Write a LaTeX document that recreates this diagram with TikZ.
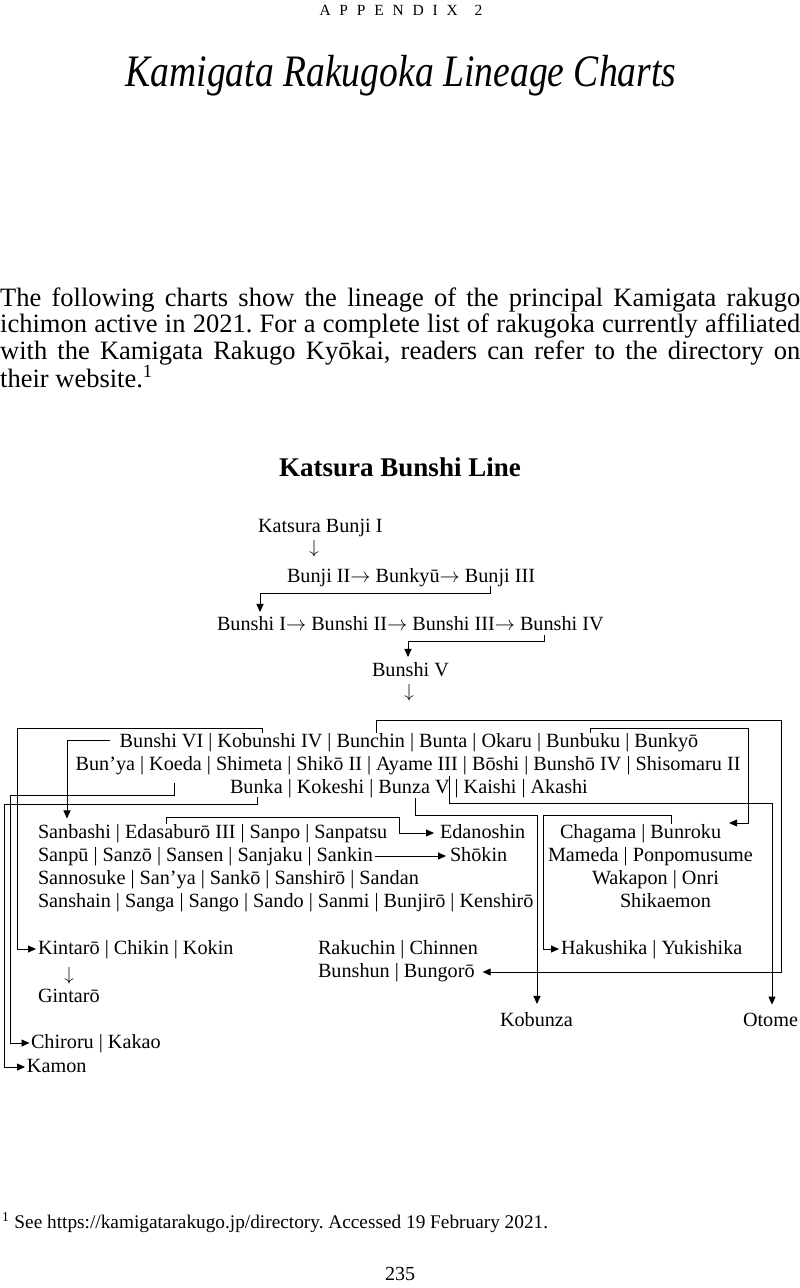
\documentclass[tikz,border=0pt]{standalone}
\usepackage{fix-cm}
\usepackage{fontspec}
\usepackage{graphicx}
\setmainfont{Liberation Serif}
\usetikzlibrary{arrows.meta,calc}
\frenchspacing

\newcommand\chartfont{\fontsize{20.2}{23}\selectfont}
\newcommand\paraf{\fontsize{26.5}{26.5}\selectfont}
\newcommand\sepbar{\kern0.25em|\kern0.25em}
\newcommand\separr{$\rightarrow$\kern0.25em}
\newcommand\lsp{\hspace{8.8pt}}
\newcommand\fullline[1]{\makebox[800pt][s]{#1}}
\newcommand\namerow[3]{%
  \coordinate (cur) at #2;
  \foreach \id/\txt [count=\i] in {#3} {%
    \ifnum\i>1\relax
      \node[namebox] (sep-\id) at (cur) {#1};
      \coordinate (cur) at (sep-\id.base east);
    \fi
    \node[namebox] (\id) at (cur) {\txt};
    \coordinate (cur) at (\id.base east);
  }%
}

\begin{document}
\begin{tikzpicture}[x=1pt,y=-1pt,
  namebox/.style={anchor=base west,inner sep=0pt,outer sep=0pt,font=\chartfont},
  glyph/.style={inner sep=0pt,font=\fontsize{19}{20}\selectfont},
  conn/.style={line width=0.9pt,draw=black},
  arr/.style={conn,-{Triangle[length=8pt,width=7pt]}}]
\useasboundingbox (0,0) rectangle (800,1288);
\fill[white] (0,0) rectangle (800,1288);

% ---- page header and text ----
\node[anchor=base,inner sep=0pt,font=\fontsize{15.5}{18}\selectfont] (appendix) at (401,15.5)
  {A\lsp P\lsp P\lsp E\lsp N\lsp D\lsp I\lsp X\hspace{17pt}2};
\node[anchor=base,inner sep=0pt,font=\fontsize{45}{48}\selectfont\itshape] (title) at (401,86)
  {\scalebox{0.836}[1]{Kamigata Rakugoka Lineage Charts}};
\node[anchor=base west,inner sep=0pt,font=\paraf] (para) at (0,306)
  {\parbox[t]{800pt}{%
    \fullline{The following charts show the lineage of the principal Kamigata rakugo}\\
    \fullline{ichimon active in 2021. For a complete list of rakugoka currently affiliated}\\
    \fullline{with the Kamigata Rakugo Kyōkai, readers can refer to the directory on}\\
    their website.\textsuperscript{1}}};
\node[anchor=base,inner sep=0pt,font=\fontsize{27}{30}\selectfont\bfseries] (heading) at (400,476)
  {Katsura Bunshi Line};
\node[anchor=base west,inner sep=0pt,font=\fontsize{19.3}{22}\selectfont] (footnote) at (2,1228)
  {\textsuperscript{1}\hspace{5pt}See https://kamigatarakugo.jp/directory. Accessed 19 February 2021.};
\node[anchor=base,inner sep=0pt,font=\fontsize{20}{22}\selectfont] (pageno) at (400,1280) {235};

% ---- chart rows ----
\node[namebox] (katsura) at (258,532) {Katsura Bunji I};
\node[glyph] (down1) at (314,549) {$\downarrow$};
\namerow{\separr}{(287,582)}{bunjiII/Bunji II,bunkyu/Bunkyū,bunjiIII/Bunji III}
\namerow{\separr}{(217,630)}{bunshiI/Bunshi I,bunshiII/Bunshi II,bunshiIII/Bunshi III,bunshiIV/Bunshi IV}
\node[namebox] (bunshiV) at (372,676) {Bunshi V};
\node[glyph] (down2) at (409,693) {$\downarrow$};

\namerow{\sepbar}{(119.7,747)}{bunshiVI/Bunshi VI,kobunshi/Kobunshi IV,bunchin/Bunchin,bunta/Bunta,okaru/Okaru,bunbuku/Bunbuku,bunkyo/Bunkyō}
\namerow{\sepbar}{(75.6,770)}{bunya/Bun’ya,koeda/Koeda,shimeta/Shimeta,shiko/Shikō II,ayame/Ayame III,boshi/Bōshi,bunsho/Bunshō IV,shisomaru/Shisomaru II}
\namerow{\sepbar}{(230,793)}{bunka/Bunka,kokeshi/Kokeshi,bunza/Bunza V,kaishi/Kaishi,akashi/Akashi}

\namerow{\sepbar}{(38,838.5)}{sanbashi/Sanbashi,edasaburo/Edasaburō III,sanpo/Sanpo,sanpatsu/Sanpatsu}
\namerow{\sepbar}{(38,861.5)}{sanpu/Sanpū,sanzo/Sanzō,sansen/Sansen,sanjaku/Sanjaku,sankin/Sankin}
\node[namebox] (sannosuke) at (38,884.5) {Sannosuke | San’ya | Sankō | Sanshirō | Sandan};
\node[namebox] (sanshain) at (38,907.5) {Sanshain | Sanga | Sango | Sando | Sanmi | Bunjirō | Kenshirō};
\node[namebox] (edanoshin) at (440,838.5) {Edanoshin};
\node[namebox] (shokin) at (450,861.5) {Shōkin};

\namerow{\sepbar}{(560,838.5)}{chagama/Chagama,bunroku/Bunroku}
\node[namebox] (mameda) at (548,861.5) {Mameda | Ponpomusume};
\node[namebox] (wakapon) at (592,884.5) {Wakapon | Onri};
\node[namebox] (shikaemon) at (620,907.5) {Shikaemon};

\node[namebox] (kintaro) at (38,954) {Kintarō | Chikin | Kokin};
\node[glyph] (down3) at (69,976) {$\downarrow$};
\node[namebox] (gintaro) at (38,1002) {Gintarō};
\node[namebox] (chiroru) at (31,1048) {Chiroru | Kakao};
\node[namebox] (kamon) at (27,1072) {Kamon};

\node[namebox] (rakuchin) at (318,954) {Rakuchin | Chinnen};
\node[namebox] (bunshun) at (318,977) {Bunshun | Bungorō};
\node[namebox] (hakushika) at (561,954) {Hakushika | Yukishika};
\node[namebox] (kobunza) at (500,1026) {Kobunza};
\node[namebox] (otome) at (743,1026) {Otome};

% ---- connectors ----
\draw[arr,shorten >=4pt] (490,0 |- bunjiIII.south) -- (490,593) -- (260,593) -- (260,0 |- bunshiI.north);
\draw[arr,shorten <=5pt,shorten >=5pt] (544,0 |- bunshiIV.south) -- (544,641) -- (408,641) -- (408,0 |- bunshiV.north);
\draw[arr,shorten >=2pt] (262,0 |- kobunshi.north) -- (262,728) -- (17,728) -- (17,949) -- (kintaro.west |- 0,949);
\draw[arr,shorten <=10pt,shorten >=6pt] (bunshiVI.west) -- (67,0 |- bunshiVI.west) -- (67,0 |- sanbashi.north);
\draw[arr,shorten >=8pt] (376,0 |- bunchin.north) -- (376,720) -- (781,720) -- (781,972) -- (bunshun.east |- 0,972);
\draw[arr,shorten >=8pt] (590,0 |- bunbuku.north) -- (590,728) -- (748,728) -- (748,823) -- (bunroku.east |- 0,823);
\draw[arr,shorten <=13pt,shorten >=1.5pt] (174,0 |- koeda.south) -- (174,795) -- (10,795) -- (10,1043) -- (chiroru.west |- 0,1043);
\draw[arr,shorten <=4pt,shorten >=2pt] (257,0 |- bunka.south) -- (257,804) -- (4,804) -- (4,1067) -- (kamon.west |- 0,1067);
\draw[arr,shorten <=2pt,shorten >=8pt] (449,0 |- ayame.south) -- (449,803) -- (772,803) -- (772,0 |- otome.north);
\draw[arr,shorten <=5pt,shorten >=8pt] (415,0 |- bunza.south) -- (415,815) -- (537,815) -- (537,0 |- kobunza.north);
\draw[arr,shorten >=2pt] (671,0 |- bunroku.north) -- (671,815) -- (543,815) -- (543,949) -- (hakushika.west |- 0,949);
\draw[arr,shorten >=6pt] (166,0 |- edasaburo.north) -- (166,817) -- (399,817) -- (399,833) -- (edanoshin.west |- 0,833);
\draw[arr,shorten <=2pt,shorten >=4pt] (sankin.east |- 0,856) -- (shokin.west |- 0,856);
\end{tikzpicture}
\end{document}
